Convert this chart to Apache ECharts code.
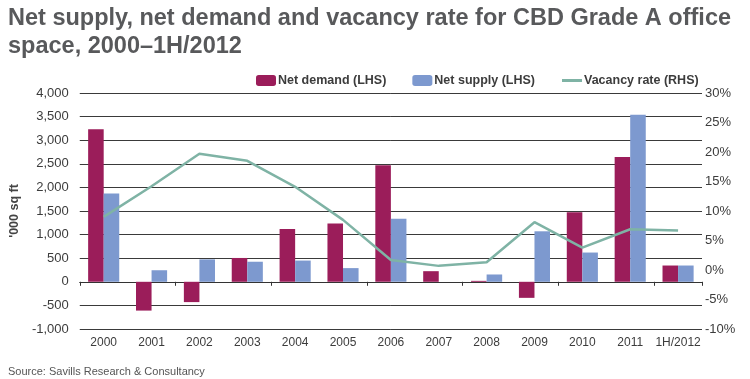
<!DOCTYPE html>
<html>
<head>
<meta charset="utf-8">
<script src="https://cdn.jsdelivr.net/npm/echarts@6/dist/echarts.min.js"></script>
<style>html,body{margin:0;padding:0;background:#fff;}#c{width:750px;height:379px;}</style>
</head>
<body>
<div id="c"></div>
<script>
const categories = ['2000','2001','2002','2003','2004','2005','2006','2007','2008','2009','2010','2011','1H/2012'];
const netDemand = [3230, -610, -430, 505, 1120, 1235, 2470, 225, 20, -340, 1475, 2645, 345];
const netSupply = [1870, 245, 475, 425, 450, 290, 1335, 0, 155, 1070, 620, 3540, 345];
const vacancyRate = [9.0, 14.2, 19.7, 18.5, 14.1, 8.5, 1.7, 0.7, 1.3, 8.1, 3.8, 6.9, 6.7];
const leftTicks = {min: -1000, max: 4000, interval: 500};
const rightTicks = {min: -10, max: 30, interval: 5};

const FONT = "'Liberation Sans', Arial, Helvetica, sans-serif";
const TXT = '#3c3c3c';
const legendText = {fontFamily: FONT, fontSize: 12.5, fontWeight: 'bold', color: TXT, padding: [0,0,0,-3]};
const chart = echarts.init(document.getElementById('c'), null, {renderer: 'canvas'});
chart.setOption({
  animation: false,
  backgroundColor: '#fff',
  textStyle: {fontFamily: FONT},
  title: [{
    text: 'Net supply, net demand and vacancy rate for CBD Grade A office\nspace, 2000\u20131H/2012',
    left: 3, top: 0,
    textStyle: {fontFamily: FONT, fontSize: 23.5, fontWeight: 'bold', color: '#58595b', lineHeight: 28}
  }, {
    text: 'Source: Savills Research & Consultancy',
    left: 3, top: 361,
    textStyle: {fontFamily: FONT, fontSize: 11, fontWeight: 'normal', color: '#555'}
  }],
  legend: [{
    left: 251, top: 69,
    itemWidth: 20, itemHeight: 11, itemGap: 26,
    textStyle: legendText,
    data: ['Net demand (LHS)', 'Net supply (LHS)']
  }, {
    left: 557, top: 69,
    itemWidth: 20, itemHeight: 3,
    icon: 'rect',
    textStyle: legendText,
    data: ['Vacancy rate (RHS)']
  }],
  grid: {left: 73, right: 48, top: 93, bottom: 50, containLabel: false},
  xAxis: [{
    type: 'category', data: categories, position: 'bottom',
    axisLine: {show: false, onZero: false}, axisTick: {show: false},
    axisLabel: {fontFamily: FONT, fontSize: 12, color: TXT, margin: 8, interval: 0}
  }, {
    type: 'category', data: categories, position: 'bottom',
    axisLine: {show: true, onZero: true, lineStyle: {color: '#333', width: 1}},
    axisTick: {show: true, length: 4, lineStyle: {color: '#333'}},
    axisLabel: {show: false}
  }],
  yAxis: [{
    type: 'value', min: leftTicks.min, max: leftTicks.max, interval: leftTicks.interval,
    name: "'000 sq ft", nameLocation: 'middle', nameGap: 48, nameRotate: 90,
    nameTextStyle: {fontFamily: FONT, fontSize: 12.5, fontWeight: 'bold', color: '#444'},
    axisLine: {show: false}, axisTick: {show: false},
    axisLabel: {fontFamily: FONT, fontSize: 13, color: TXT, margin: 11,
      formatter: v => v.toLocaleString('en-US')},
    splitLine: {show: true, lineStyle: {color: '#3a3a3a', width: 1}}
  }, {
    type: 'value', min: rightTicks.min, max: rightTicks.max, interval: rightTicks.interval,
    position: 'right',
    axisLine: {show: false}, axisTick: {show: false},
    axisLabel: {fontFamily: FONT, fontSize: 13, color: TXT, margin: 3, formatter: '{value}%'},
    splitLine: {show: false}
  }],
  series: [{
    name: 'Net demand (LHS)', type: 'bar', data: netDemand,
    xAxisIndex: 0, yAxisIndex: 0,
    itemStyle: {color: '#9b1d5a'}, barGap: '0%', barCategoryGap: '35%'
  }, {
    name: 'Net supply (LHS)', type: 'bar', data: netSupply,
    xAxisIndex: 0, yAxisIndex: 0,
    itemStyle: {color: '#7d99cf'}, barGap: '0%', barCategoryGap: '35%'
  }, {
    name: 'Vacancy rate (RHS)', type: 'line', data: vacancyRate,
    xAxisIndex: 0, yAxisIndex: 1,
    symbol: 'none', lineStyle: {color: '#7fb3a5', width: 2.5}, itemStyle: {color: '#7fb3a5'},
    z: 5
  }]
});
</script>
</body>
</html>
